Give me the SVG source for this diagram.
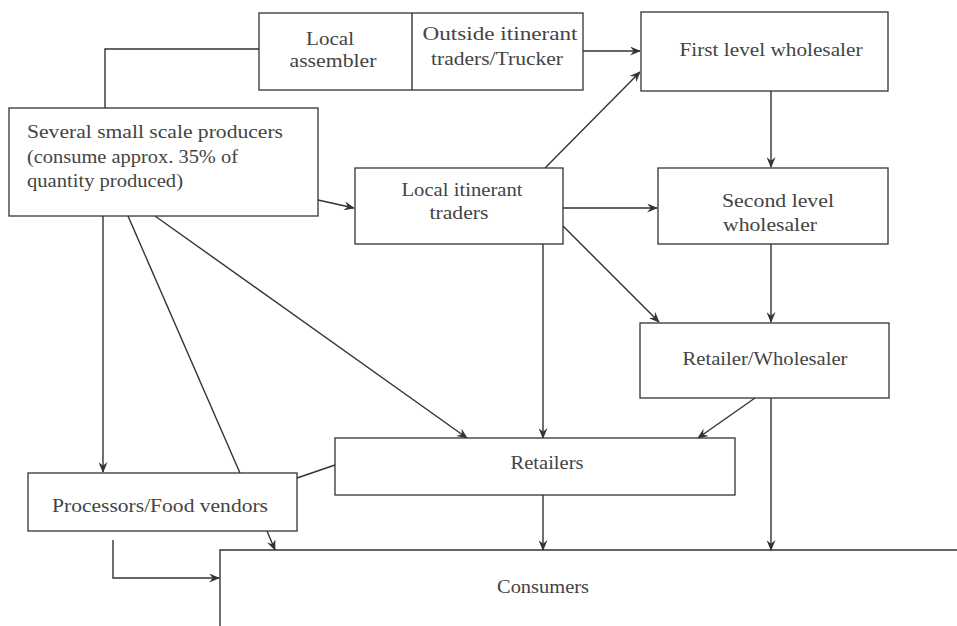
<svg xmlns="http://www.w3.org/2000/svg" width="957" height="626" viewBox="0 0 957 626">
<style>
.box{fill:#fff;stroke:#333;stroke-width:1.3}
.t{font-family:"Liberation Serif","Times New Roman",serif;font-size:19px;fill:#444;text-anchor:middle}
.tl{text-anchor:start}
.c{fill:none;stroke:#333;stroke-width:1.4}
.a{marker-end:url(#ah)}
</style>
<defs>
<marker id="ah" viewBox="0 0 12 10" refX="11" refY="5" markerWidth="12" markerHeight="9" markerUnits="userSpaceOnUse" orient="auto">
<path d="M0,0 L12,5 L0,10 L4,5 Z" fill="#333"/>
</marker>
</defs>
<rect width="957" height="626" fill="#fff"/>
<g id="connectors">
<polyline class="c" points="105,108 105,49 259,49"/>
<line class="c a" x1="583" y1="51" x2="640" y2="51"/>
<line class="c a" x1="545" y1="168" x2="640" y2="72"/>
<line class="c a" x1="771" y1="91" x2="771" y2="167"/>
<line class="c a" x1="318" y1="200" x2="354" y2="208"/>
<line class="c a" x1="563" y1="208" x2="657" y2="208"/>
<line class="c a" x1="563" y1="226" x2="659" y2="322"/>
<line class="c a" x1="771" y1="244" x2="771" y2="322"/>
<line class="c a" x1="543" y1="244" x2="543" y2="438"/>
<line class="c a" x1="155" y1="216" x2="467" y2="438"/>
<line class="c a" x1="755" y1="398" x2="698" y2="438"/>
<line class="c a" x1="771" y1="398" x2="771" y2="550"/>
<line class="c a" x1="103" y1="216" x2="103" y2="472"/>
<line class="c" x1="128" y1="216" x2="240" y2="473"/>
<line class="c a" x1="267" y1="531" x2="275" y2="550"/>
<line class="c" x1="335" y1="465" x2="297" y2="478"/>
<line class="c a" x1="543" y1="495" x2="543" y2="550"/>
<polyline class="c a" points="113,540 113,578 219,578"/>
</g>
<g id="top-box">
<rect class="box" x="259" y="13" width="324" height="77"/>
<line class="c" x1="412" y1="13" x2="412" y2="90"/>
</g>
<g id="local-assembler">
<text class="t" x="330" y="45" textLength="48" lengthAdjust="spacingAndGlyphs">Local</text>
<text class="t" x="333" y="67" textLength="87" lengthAdjust="spacingAndGlyphs">assembler</text>
</g>
<g id="outside-traders">
<text class="t" x="500" y="40" textLength="155" lengthAdjust="spacingAndGlyphs">Outside itinerant</text>
<text class="t" x="497" y="65" textLength="132" lengthAdjust="spacingAndGlyphs">traders/Trucker</text>
</g>
<g id="first-level">
<rect class="box" x="641" y="12" width="247" height="79"/>
<text class="t" x="771" y="56" textLength="183" lengthAdjust="spacingAndGlyphs">First level wholesaler</text>
</g>
<g id="producers">
<rect class="box" x="9" y="108" width="309" height="108"/>
<text class="t tl" x="27" y="138" textLength="256" lengthAdjust="spacingAndGlyphs">Several small scale producers</text>
<text class="t tl" x="27" y="163" textLength="211" lengthAdjust="spacingAndGlyphs">(consume approx. 35% of</text>
<text class="t tl" x="27" y="187" textLength="156" lengthAdjust="spacingAndGlyphs">quantity produced)</text>
</g>
<g id="local-itinerant">
<rect class="box" x="355" y="168" width="208" height="76"/>
<text class="t" x="462" y="196" textLength="121" lengthAdjust="spacingAndGlyphs">Local itinerant</text>
<text class="t" x="459" y="219" textLength="59" lengthAdjust="spacingAndGlyphs">traders</text>
</g>
<g id="second-level">
<rect class="box" x="658" y="168" width="230" height="76"/>
<text class="t" x="778" y="207" textLength="112" lengthAdjust="spacingAndGlyphs">Second level</text>
<text class="t" x="770" y="231" textLength="94" lengthAdjust="spacingAndGlyphs">wholesaler</text>
</g>
<g id="retailer-wholesaler">
<rect class="box" x="640" y="323" width="249" height="75"/>
<text class="t" x="765" y="365" textLength="165" lengthAdjust="spacingAndGlyphs">Retailer/Wholesaler</text>
</g>
<g id="retailers">
<rect class="box" x="335" y="438" width="400" height="57"/>
<text class="t" x="547" y="469" textLength="73" lengthAdjust="spacingAndGlyphs">Retailers</text>
</g>
<g id="processors">
<rect class="box" x="28" y="473" width="269" height="58"/>
<text class="t" x="160" y="512" textLength="216" lengthAdjust="spacingAndGlyphs">Processors/Food vendors</text>
</g>
<g id="consumers">
<polyline class="c" points="220,626 220,550 957,550"/>
<text class="t" x="543" y="593" textLength="92" lengthAdjust="spacingAndGlyphs">Consumers</text>
</g>
</svg>
